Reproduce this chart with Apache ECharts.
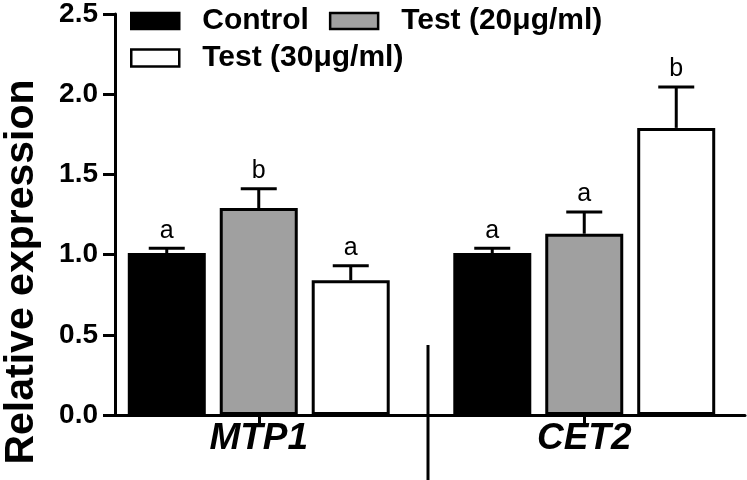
<!DOCTYPE html>
<html>
<head>
<meta charset="utf-8">
<script src="https://cdn.jsdelivr.net/npm/echarts@6/dist/echarts.min.js"></script>
<style>html,body{margin:0;padding:0;background:#fff;}#c{width:747px;height:480px;}</style>
</head>
<body>
<div id="c"></div>
<script>
// ---- data ----
var categories = ['MTP1', 'CET2'];
var seriesNames = ['Control', 'Test (20\u03bcg/ml)', 'Test (30\u03bcg/ml)'];
var controlVals = [1.01, 1.01];
var test20Vals = [1.29, 1.13];
var test30Vals = [0.84, 1.79];
var controlErr = [0.03, 0.03];
var test20Err = [0.12, 0.135];
var test30Err = [0.09, 0.255];
var controlLetters = ['a', 'a'];
var test20Letters = ['b', 'a'];
var test30Letters = ['a', 'b'];
var yTicks = [0, 0.5, 1.0, 1.5, 2.0, 2.5];

// ---- styling ----
var FONT = 'Liberation Sans, Arial, sans-serif';
var barW = 78, gapPx = 14;
var colors = ['#000000', '#a0a0a0', '#ffffff'];
var vals = [controlVals, test20Vals, test30Vals];
var errs = [controlErr, test20Err, test30Err];
var letters = [controlLetters, test20Letters, test30Letters];

var chart = echarts.init(document.getElementById('c'), null, {renderer: 'canvas'});

var series = [];
for (var i = 0; i < 3; i++) {
  series.push({
    name: seriesNames[i], type: 'bar', xAxisIndex: 0, yAxisIndex: 0,
    barWidth: barW, barGap: (gapPx / barW * 100).toFixed(1) + '%',
    itemStyle: {color: colors[i], borderColor: '#000', borderWidth: 3},
    data: vals[i], z: 2, animation: false
  });
}
for (var k = 0; k < 3; k++) {
  (function (i) {
    var d = categories.map(function (c, j) { return [j, vals[i][j], errs[i][j]]; });
    series.push({
      type: 'custom', xAxisIndex: 0, yAxisIndex: 0, z: 3, animation: false,
      data: d,
      renderItem: function (params, api) {
        var idx = api.value(0), v = api.value(1), e = api.value(2);
        var top = api.coord([idx, v]);
        var cap = api.coord([idx, v + e]);
        var x = top[0] + (i - 1) * (barW + gapPx);
        var half = 18;
        return {
          type: 'group',
          children: [
            {type: 'line', shape: {x1: x, y1: top[1], x2: x, y2: cap[1]}, style: {stroke: '#000', lineWidth: 3}},
            {type: 'line', shape: {x1: x - half, y1: cap[1], x2: x + half, y2: cap[1]}, style: {stroke: '#000', lineWidth: 3}},
            {type: 'text', x: x, y: cap[1] - 5, style: {text: letters[i][params.dataIndex], font: '25px ' + FONT, fill: '#000', align: 'center', verticalAlign: 'bottom'}}
          ]
        };
      }
    });
  })(k);
}

var legendText = {fontFamily: FONT, fontWeight: 'bold', fontSize: 30, color: '#000', padding: [0, 0, 0, 18]};
var option = {
  backgroundColor: '#fff',
  animation: false,
  grid: [
    {left: 96, width: 674, top: 14, bottom: 65},
    {left: 115, right: 2, top: 14, bottom: 65}
  ],
  legend: [
    {data: [seriesNames[0], seriesNames[1]], left: 125, top: 1, orient: 'horizontal', itemWidth: 48, itemHeight: 16, itemGap: 20,
     icon: 'rect', itemStyle: {borderColor: '#000', borderWidth: 2.5}, textStyle: legendText, selectedMode: false},
    {data: [seriesNames[2]], left: 125, top: 38, itemWidth: 48, itemHeight: 17,
     icon: 'rect', itemStyle: {borderColor: '#000', borderWidth: 2.5}, textStyle: legendText, selectedMode: false}
  ],
  xAxis: [
    {type: 'category', gridIndex: 0, data: categories,
     axisLine: {show: false},
     axisTick: {show: true, alignWithLabel: true, length: 10, lineStyle: {color: '#000', width: 3}},
     axisLabel: {fontFamily: FONT, fontWeight: 'bold', fontStyle: 'italic', fontSize: 37, color: '#000', margin: 5}},
    {type: 'value', gridIndex: 1, min: 0, max: 1,
     axisLine: {show: true, lineStyle: {color: '#000', width: 3}},
     axisTick: {show: false}, axisLabel: {show: false}, splitLine: {show: false}}
  ],
  yAxis: [
    {type: 'value', gridIndex: 0, min: 0, max: 2.5, show: false},
    {type: 'value', gridIndex: 1, min: yTicks[0], max: yTicks[yTicks.length - 1], interval: 0.5,
     axisLine: {show: true, lineStyle: {color: '#000', width: 3}},
     axisTick: {show: true, inside: false, length: 12, lineStyle: {color: '#000', width: 3}},
     axisLabel: {fontFamily: FONT, fontWeight: 'bold', fontSize: 28, color: '#000', margin: 17,
                 formatter: function (v) { return v.toFixed(1); }},
     splitLine: {show: false}}
  ],
  graphic: [
    {type: 'text', x: 22, y: 272, rotation: Math.PI / 2,
     style: {text: 'Relative expression', font: 'bold 41px ' + FONT, fill: '#000', align: 'center', verticalAlign: 'middle'}, z: 10},
    {type: 'line', shape: {x1: 428, y1: 345, x2: 428, y2: 480}, style: {stroke: '#000', lineWidth: 3}, z: 10}
  ],
  series: series
};
chart.setOption(option);
</script>
</body>
</html>
